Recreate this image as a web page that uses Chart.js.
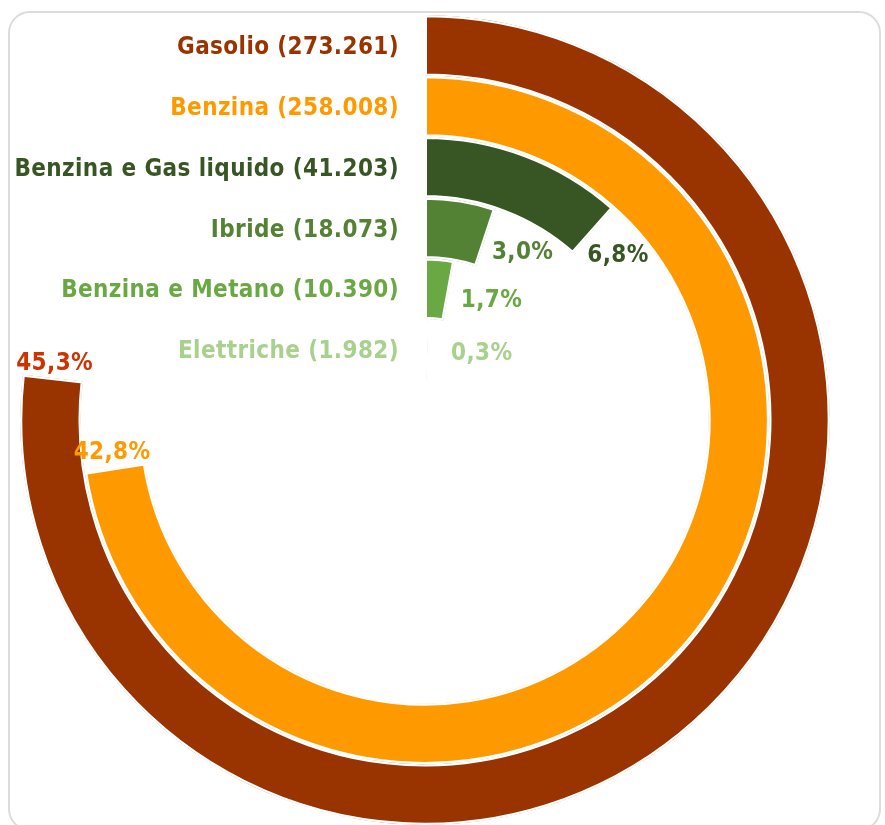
<!DOCTYPE html>
<html>
<head>
<meta charset="utf-8">
<script src="https://cdn.jsdelivr.net/npm/chart.js@4.4.1/dist/chart.umd.min.js"></script>
<style>
html, body { margin: 0; padding: 0; background: #ffffff; width: 885px; height: 825px; overflow: hidden; }
#card { position: absolute; left: 8px; top: 11px; width: 873px; height: 820px; border: 2px solid #dcdcdc; border-radius: 22px; box-sizing: border-box; }
#wrap { position: absolute; left: 0; top: 0; width: 885px; height: 825px; }
</style>
</head>
<body>
<div id="card"></div>
<div id="wrap"><canvas id="c" width="885" height="825"></canvas></div>
<script>
// ---- data ----
const categories = ['Gasolio', 'Benzina', 'Benzina e Gas liquido', 'Ibride', 'Benzina e Metano', 'Elettriche'];
const vehicleCounts = [273261, 258008, 41203, 18073, 10390, 1982];
const sharePercent = [45.3, 42.8, 6.8, 3.0, 1.7, 0.3];
const scaleMax = 59; // percent that corresponds to a full turn

// ---- styles ----
const ringColors = ['#993300', '#FF9900', '#375623', '#548235', '#6AA843', '#A9D18E'];
const nameColors = ['#993300', '#FF9900', '#375623', '#548235', '#6AA843', '#A9D18E'];
const pctColors  = ['#CC3300', '#FF9900', '#375623', '#548235', '#6AA843', '#A9D18E'];
const FONT = "bold 24px 'DejaVu Sans Condensed', 'DejaVu Sans', sans-serif";

function fmtIt(n) { return String(n).replace(/\B(?=(\d{3})+(?!\d))/g, '.'); }
function fmtPct(p) { return p.toFixed(1).replace('.', ',') + '%'; }

const labelPlugin = {
  id: 'ringLabels',
  afterDraw(chart) {
    const ctx = chart.ctx;
    ctx.save();
    ctx.font = FONT;
    try { ctx.fontStretch = 'condensed'; } catch (e) {}
    try { ctx.letterSpacing = '0.4px'; } catch (e) {}
    const capH = 17.5;
    chart.data.datasets.forEach((ds, i) => {
      const meta = chart.getDatasetMeta(i);
      const arc = meta.data[0];
      const p = arc.getProps(['x', 'y', 'startAngle', 'endAngle', 'innerRadius', 'outerRadius'], true);
      const midR = (p.innerRadius + p.outerRadius) / 2;
      // category name, left of the start line
      ctx.fillStyle = nameColors[i];
      ctx.textAlign = 'right';
      ctx.textBaseline = 'alphabetic';
      ctx.fillText(categories[i] + ' (' + fmtIt(vehicleCounts[i]) + ')', p.x - 26, p.y - midR + capH / 2);
      // percentage just beyond the arc end, along the tangent
      const txt = fmtPct(sharePercent[i]);
      const w = ctx.measureText(txt).width;
      const a = p.endAngle;
      const ax = p.x + midR * Math.cos(a), ay = p.y + midR * Math.sin(a);
      const tx = -Math.sin(a), ty = Math.cos(a);
      const gap = Math.max(4, 1800 / midR - 2);
      const d = Math.abs(tx) * w / 2 + Math.abs(ty) * capH / 2 + gap;
      ctx.fillStyle = pctColors[i];
      ctx.textAlign = 'center';
      ctx.fillText(txt, ax + tx * d, ay + ty * d + capH / 2);
    });
    ctx.restore();
  }
};

new Chart(document.getElementById('c'), {
  type: 'doughnut',
  data: {
    labels: ['quota', 'resto'],
    datasets: categories.map((c, i) => ({
      label: c,
      data: [sharePercent[i], scaleMax - sharePercent[i]],
      backgroundColor: [ringColors[i], 'rgba(0,0,0,0)'],
      borderColor: ['#ffffff', 'rgba(0,0,0,0)'],
      borderWidth: [2, 0],
      borderAlign: 'inner'
    }))
  },
  options: {
    responsive: false,
    animation: false,
    devicePixelRatio: 1,
    radius: 405,
    cutout: '9.9%',
    layout: { padding: { left: 0, right: 35, top: 15, bottom: 0 } },
    plugins: { legend: { display: false }, tooltip: { enabled: false } },
    events: []
  },
  plugins: [labelPlugin]
});
</script>
</body>
</html>
